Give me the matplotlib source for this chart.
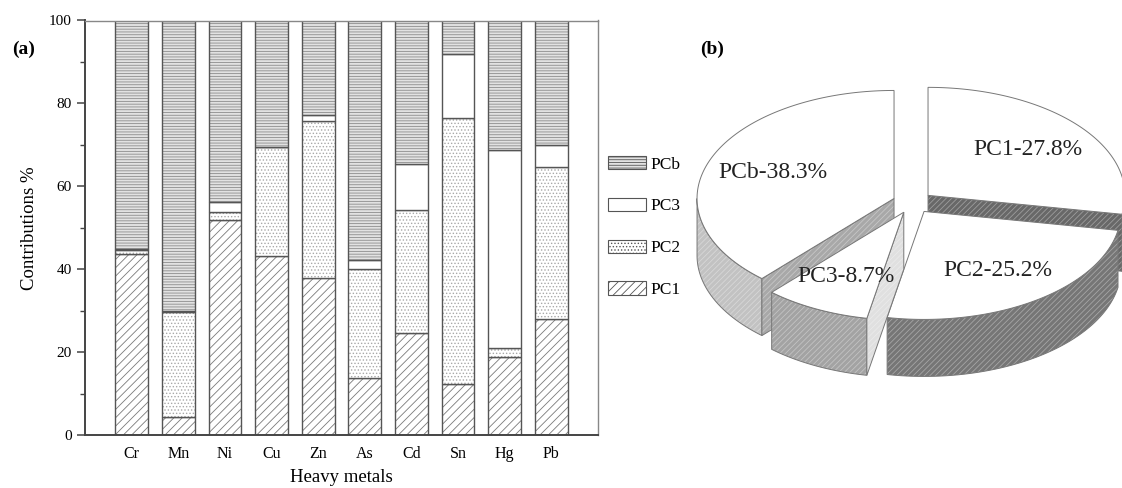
import numpy as np
import matplotlib
matplotlib.use("Agg")
import matplotlib.pyplot as plt
from matplotlib.patches import Polygon, Patch

plt.rcParams['font.family'] = ['Liberation Serif', 'DejaVu Serif']
plt.rcParams['hatch.linewidth'] = 0.6

# (a) source contributions per metal, %
metals = ["Cr", "Mn", "Ni", "Cu", "Zn", "As", "Cd", "Sn", "Hg", "Pb"]
pc1 = [43.6, 4.4, 51.8, 43.2, 37.8, 13.7, 24.5, 12.4, 18.7, 28.0]
pc2 = [1.0, 25.2, 1.9, 26.4, 37.9, 26.3, 29.7, 64.1, 2.3, 36.7]
pc3 = [0.2, 0.4, 2.5, 0.0, 1.4, 2.3, 11.3, 15.5, 47.7, 5.2]
pcb = [100 - a - b - c for a, b, c in zip(pc1, pc2, pc3)]

# (b) overall shares, %
sources = ["PC1", "PC2", "PC3", "PCb"]
shares = [27.8, 25.2, 8.7, 38.3]

fig = plt.figure(figsize=(11.22, 4.88), dpi=100)
ax = fig.add_axes([85 / 1122, 1 - 435 / 488, 513 / 1122, 414.5 / 488])

x = np.arange(1, len(metals) + 1)
w = 0.7
edge = '#555555'
# face, hatch, hatch colour
styles = {
    "PC1": ('white', '////', '#7a7a7a'),
    "PC2": ('white', '.....', '#a8a8a8'),
    "PC3": ('white', '', '#ffffff'),
    "PCb": ('#e2e2e2', '------', '#8c8c8c'),
}
bottom = np.zeros(len(metals))
for name, vals in zip(["PC1", "PC2", "PC3", "PCb"], [pc1, pc2, pc3, pcb]):
    fc, hatch, hc = styles[name]
    vals = np.array(vals)
    ax.bar(x, vals, w, bottom=bottom, color=fc, hatch=hatch, edgecolor=hc, linewidth=0)
    ax.bar(x, vals, w, bottom=bottom, color='none', edgecolor=edge, linewidth=1.0)
    bottom += vals

ax.set_xlim(0, 11)
ax.set_ylim(0, 100)
ax.set_xticks(x)
ax.set_xticklabels(metals, fontsize=11.5)
ax.tick_params(axis='x', length=0, pad=8)
ax.set_yticks(np.arange(0, 101, 20))
ax.set_yticks(np.arange(10, 100, 20), minor=True)
ax.tick_params(axis='y', which='major', length=6, width=1.1, color='#444444', labelsize=11, direction='out')
ax.tick_params(axis='y', which='minor', length=3.5, width=1.0, color='#444444', direction='out')
for s in ['left', 'bottom']:
    ax.spines[s].set_linewidth(1.4)
    ax.spines[s].set_color('#444444')
for s in ['top', 'right']:
    ax.spines[s].set_linewidth(1.0)
    ax.spines[s].set_color('#888888')
ax.set_ylabel("Contributions %", fontsize=13.5, labelpad=8)
ax.set_xlabel("Heavy metals", fontsize=13.5, labelpad=5)

handles = []
for name in ["PCb", "PC3", "PC2", "PC1"]:
    fc, hatch, hc = styles[name]
    handles.append(Patch(facecolor=fc, hatch=hatch, edgecolor=edge, linewidth=0.8, label=name))
fig.legend(handles=handles, loc='center left', bbox_to_anchor=(608 / 1122, 1 - 227 / 488),
           frameon=False, fontsize=12.5, handlelength=2.2, handleheight=0.8,
           labelspacing=1.45, handletextpad=0.25, borderpad=0, borderaxespad=0)

fig.text(12 / 1122, 1 - 49 / 488, "(a)", fontsize=14, fontweight='bold', va='center')
fig.text(700 / 1122, 1 - 49 / 488, "(b)", fontsize=14, fontweight='bold', va='center')

# (b) exploded 3-D pie, drawn in pixel coordinates
pax = fig.add_axes([0, 0, 1, 1], zorder=-1)
pax.set_xlim(0, 1122)
pax.set_ylim(488, 0)
pax.axis('off')

cx, cy = 912.7, 202.4
ra, rb, depth, expl = 197, 108, 57, 20
line = '#777777'
wall_col = {"PC1": '#6c6c6c', "PC2": '#767676', "PC3": '#a3a3a3', "PCb": '#c2c2c2'}
cut_col = {"PC1": '#686868', "PC2": '#767676', "PC3": '#e0e0e0', "PCb": '#a8a8a8'}


def ell(ox, oy, t, dz=0.0):
    r = np.radians(t)
    return np.column_stack([ox + ra * np.cos(r), oy - rb * np.sin(r) + dz])


def shade(pts, fc, lw=0.7):
    pax.add_patch(Polygon(pts, closed=True, facecolor=fc, edgecolor='none'))
    pax.add_patch(Polygon(pts, closed=True, facecolor='none', hatch='//////',
                          edgecolor=(1, 1, 1, 0.35), linewidth=0))
    pax.add_patch(Polygon(pts, closed=True, facecolor='none', edgecolor=line, linewidth=lw))


slices = []
start = 90.0
for name, v in zip(sources, shares):
    end = start - v * 3.6
    mid = (start + end) / 2
    ox = cx + expl * np.cos(np.radians(mid))
    oy = cy - expl * rb / ra * np.sin(np.radians(mid))
    slices.append((name, end, start, mid, ox, oy))
    start = end

# paint back to front
for name, t1, t2, mid, ox, oy in sorted(slices, key=lambda s: -np.sin(np.radians(s[3]))):
    lo, hi = max(t1, -180), min(t2, 0)
    if hi > lo:
        ts = np.linspace(lo, hi, 80)
        pts = np.vstack([ell(ox, oy, ts), ell(ox, oy, ts[::-1], depth)])
        shade(pts, wall_col[name])
    for t, nrm in [(t1, t1 - 90), (t2, t2 + 90)]:
        if np.sin(np.radians(nrm)) < -1e-6:
            e0 = ell(ox, oy, [t])[0]
            pts = np.array([[ox, oy], e0, e0 + [0, depth], [ox, oy + depth]])
            shade(pts, cut_col[name])
    ts = np.linspace(t1, t2, 120)
    top = np.vstack([[ox, oy], ell(ox, oy, ts)])
    pax.add_patch(Polygon(top, closed=True, facecolor='white', edgecolor=line, linewidth=0.7))

for name, t1, t2, mid, ox, oy in slices:
    r = np.radians(mid)
    val = shares[sources.index(name)]
    pax.text(ox + 0.66 * ra * np.cos(r), oy - 0.66 * rb * np.sin(r), f"{name}-{val}%",
             fontsize=17, ha='center', va='center', color='#222222')

fig.savefig("out.png", dpi=100)
